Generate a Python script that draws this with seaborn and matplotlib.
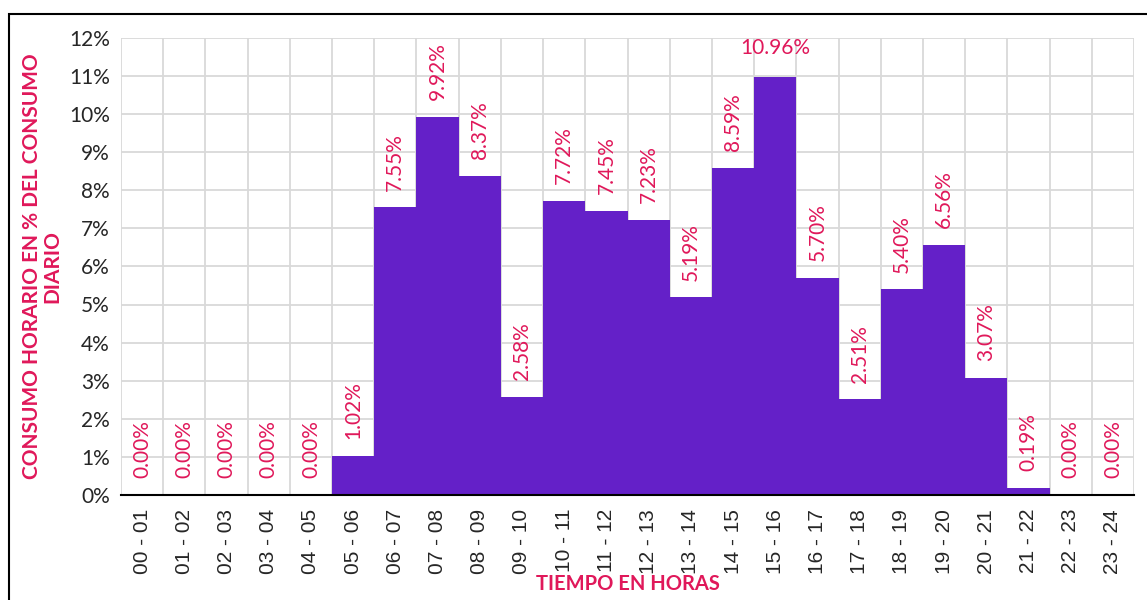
import matplotlib
matplotlib.use("Agg")
import matplotlib.pyplot as plt
import matplotlib.patches as mpatches
from matplotlib.ticker import FuncFormatter
import numpy as np
import pandas as pd
import seaborn as sns

horas = [f"{h:02d} - {h + 1:02d}" for h in range(24)]
consumo = [0.00, 0.00, 0.00, 0.00, 0.00, 1.02, 7.55, 9.92, 8.37, 2.58, 7.72, 7.45,
           7.23, 5.19, 8.59, 10.96, 5.70, 2.51, 5.40, 6.56, 3.07, 0.19, 0.00, 0.00]

df = pd.DataFrame({"hora": horas, "consumo": np.array(consumo) / 100})

sns.set_style("white")
plt.rcParams["font.family"] = ["Lato", "DejaVu Sans"]

bar_color = "#6420C8"
label_color = "#E0185A"

fig = plt.figure(figsize=(11.47, 6), dpi=100)
ax = fig.add_axes([0.1055, 0.175, 0.8832, 0.762])

sns.barplot(data=df, x="hora", y="consumo", color=bar_color, width=1.0,
            saturation=1, edgecolor="none", ax=ax, zorder=2)

ax.set_xlim(-0.5, 23.5)
ax.set_ylim(0, 0.12)
ax.set_yticks(np.arange(0, 0.121, 0.01))
ax.yaxis.set_major_formatter(FuncFormatter(lambda v, _: f"{v * 100:.0f}%"))
ax.tick_params(axis="y", length=0, labelsize=15, pad=8)

# Excel-style: tick marks between categories, labels at centers
ax.set_xticks(range(24))
ax.set_xticklabels(horas, rotation=90, fontsize=15, family=["Liberation Sans", "DejaVu Sans"])
ax.tick_params(axis="x", which="major", length=0, pad=10)
ax.set_xticks(np.arange(-0.5, 24, 1), minor=True)
ax.tick_params(axis="x", which="minor", length=6, width=1.5, color="black")

ax.grid(False)
for y in np.arange(0.01, 0.121, 0.01):
    ax.axhline(y, color="#D9D9D9", lw=1.3, zorder=0)
for x in np.arange(-0.5, 24, 1):
    ax.axvline(x, color="#D9D9D9", lw=1.3, zorder=0)

for s in ["top", "right", "left"]:
    ax.spines[s].set_visible(False)
ax.spines["bottom"].set_color("black")
ax.spines["bottom"].set_linewidth(1.5)
ax.spines["bottom"].set_zorder(3)

max_i = int(np.argmax(consumo))
for i, v in enumerate(consumo):
    if i == max_i:
        ax.annotate(f"{v:.2f}%", (i, v / 100), xytext=(0, 14), textcoords="offset points",
                    ha="center", va="bottom", color=label_color, fontsize=15)
    else:
        ax.annotate(f"{v:.2f}%", (i, v / 100), xytext=(0, 12), textcoords="offset points",
                    ha="center", va="bottom", rotation=90, color=label_color, fontsize=15)

ax.set_xlabel("TIEMPO EN HORAS", color=label_color, fontsize=14.5, fontweight="bold", labelpad=0)
ax.set_ylabel("CONSUMO HORARIO EN % DEL CONSUMO\nDIARIO", color=label_color, fontsize=15,
              fontweight="bold", labelpad=5, linespacing=1.0)

border = mpatches.Rectangle((9 / 1147, -0.05), 1.1, 1 - 14 / 600 + 0.05,
                            transform=fig.transFigure, fill=False, edgecolor="black", lw=1.5)
fig.patches.append(border)

fig.savefig("out.png", dpi=100)
